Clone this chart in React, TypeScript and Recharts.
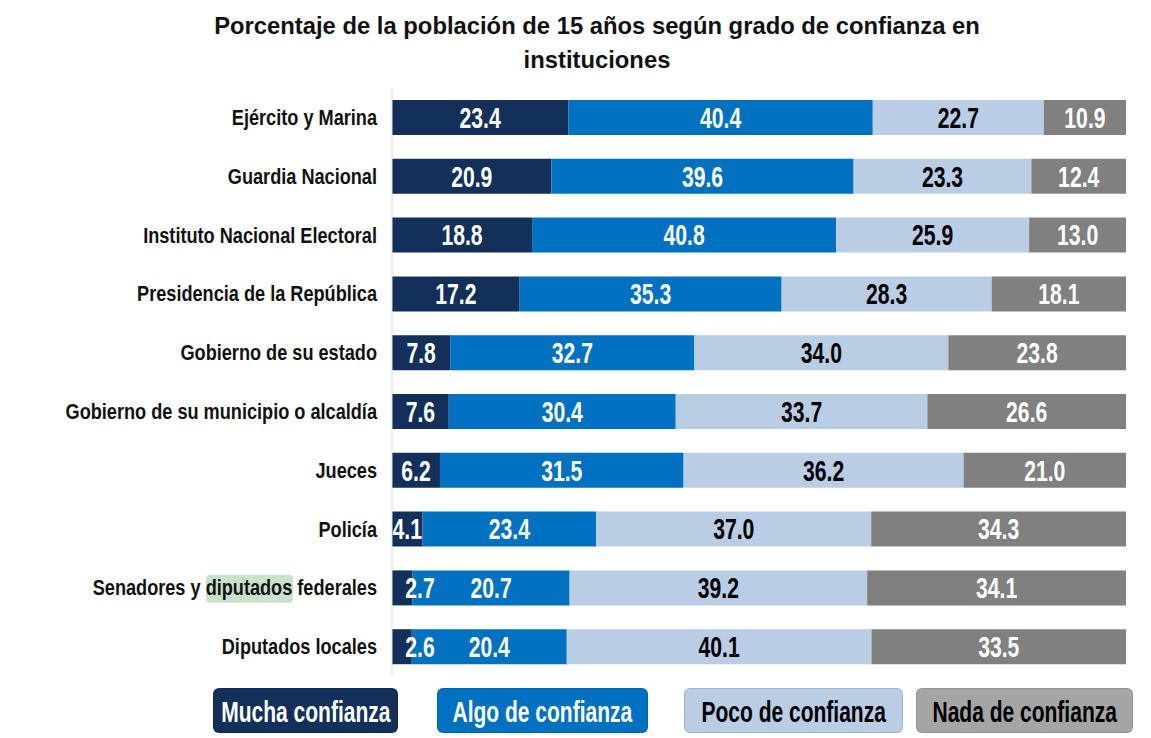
import { BarChart, Bar, XAxis, YAxis, LabelList } from 'recharts';

const categories = [
  'Ejército y Marina',
  'Guardia Nacional',
  'Instituto Nacional Electoral',
  'Presidencia de la República',
  'Gobierno de su estado',
  'Gobierno de su municipio o alcaldía',
  'Jueces',
  'Policía',
  'Senadores y diputados federales',
  'Diputados locales',
];

const mucha = [23.4, 20.9, 18.8, 17.2, 7.8, 7.6, 6.2, 4.1, 2.7, 2.6];
const algo = [40.4, 39.6, 40.8, 35.3, 32.7, 30.4, 31.5, 23.4, 20.7, 20.4];
const poco = [22.7, 23.3, 25.9, 28.3, 34.0, 33.7, 36.2, 37.0, 39.2, 40.1];
const nada = [10.9, 12.4, 13.0, 18.1, 23.8, 26.6, 21.0, 34.3, 34.1, 33.5];

const series = [
  { key: 'mucha', name: 'Mucha confianza', values: mucha, color: '#12305a', legend: '#12305a', text: '#fff', legendText: '#fff' },
  { key: 'algo', name: 'Algo de confianza', values: algo, color: '#0070c0', legend: '#0070c0', text: '#fff', legendText: '#fff' },
  { key: 'poco', name: 'Poco de confianza', values: poco, color: '#b9cde5', legend: '#b9cde5', text: '#000', legendText: '#000' },
  { key: 'nada', name: 'Nada de confianza', values: nada, color: '#808080', legend: '#a5a5a5', text: '#fff', legendText: '#000' },
];

const data = categories.map((name, i) => ({
  name,
  mucha: mucha[i],
  algo: algo[i],
  poco: poco[i],
  nada: nada[i],
}));

const FONT = '"Liberation Sans", Arial, sans-serif';

function makeLabel(values: number[], fill: string) {
  return (props: any) => {
    const { x, y, width, height, index } = props;
    const v = values[index];
    // tiny segments get their label pushed to the right, like the original
    const cx = width < 25 ? x + 28 : x + width / 2;
    return (
      <text
        transform={`translate(${cx},${y + height / 2}) scale(0.73,1)`}
        x={0}
        y={0}
        textAnchor="middle"
        dominantBaseline="central"
        fill={fill}
        fontFamily={FONT}
        fontWeight="bold"
        fontSize={29}
      >
        {v.toFixed(1)}
      </text>
    );
  };
}

function CategoryTick(props: any) {
  const { x, y, payload } = props;
  const label: string = payload.value;
  const highlight = label.startsWith('Senadores');
  const ex = x - 7;
  return (
    <g>
      {highlight && (
        <rect x={ex - 171} y={y - 13} width={87} height={28} rx={4} fill="#c9e2cc" />
      )}
      <text
        transform={`translate(${ex},${y}) scale(0.825,1)`}
        x={0}
        y={0}
        textAnchor="end"
        dominantBaseline="central"
        fill="#111"
        fontFamily={FONT}
        fontWeight="bold"
        fontSize={22}
      >
        {label}
      </text>
    </g>
  );
}

const legendPos = [
  { left: 205, width: 185 },
  { left: 429, width: 211 },
  { left: 676, width: 219 },
  { left: 908, width: 217 },
];

export default function App() {
  return (
    <div style={{ position: 'relative', width: 1135, height: 730, background: '#fff' }}>
      <div
        style={{
          position: 'absolute',
          top: 1,
          left: 0,
          width: 1178,
          textAlign: 'center',
          fontFamily: FONT,
          fontWeight: 'bold',
          fontSize: 23.8,
          lineHeight: '34px',
          color: '#111',
        }}
      >
        Porcentaje de la población de 15 años según grado de confianza en
        <br />
        instituciones
      </div>
      <BarChart
        width={1135}
        height={730}
        data={data}
        layout="vertical"
        stackOffset="expand"
        barSize={35}
        margin={{ top: 80, right: 17, bottom: 62, left: 0 }}
      >
        <XAxis type="number" domain={[0, 1]} hide />
        <YAxis
          type="category"
          dataKey="name"
          width={384}
          axisLine={{ stroke: '#d9d9d9' }}
          tickLine={false}
          tick={<CategoryTick />}
          interval={0}
        />
        {series.map((s) => (
          <Bar
            key={s.key}
            dataKey={s.key}
            name={s.name}
            stackId="a"
            fill={s.color}
            isAnimationActive={false}
          >
            <LabelList dataKey={s.key} content={makeLabel(s.values, s.text)} />
          </Bar>
        ))}
      </BarChart>
      {series.map((s, i) => (
        <div
          key={s.key}
          style={{
            position: 'absolute',
            top: 680,
            left: legendPos[i].left,
            width: legendPos[i].width,
            height: 45,
            paddingTop: 3,
            background: s.legend,
            borderRadius: 6,
            boxSizing: 'border-box',
            border: '1px solid rgba(0,0,0,0.12)',
            display: 'flex',
            alignItems: 'center',
            justifyContent: 'center',
            color: s.legendText,
            fontFamily: FONT,
            fontWeight: 'bold',
            fontSize: 30,
          }}
        >
          <span style={{ display: 'inline-block', whiteSpace: 'nowrap', transform: 'scaleX(0.7)' }}>
            {s.name}
          </span>
        </div>
      ))}
    </div>
  );
}
